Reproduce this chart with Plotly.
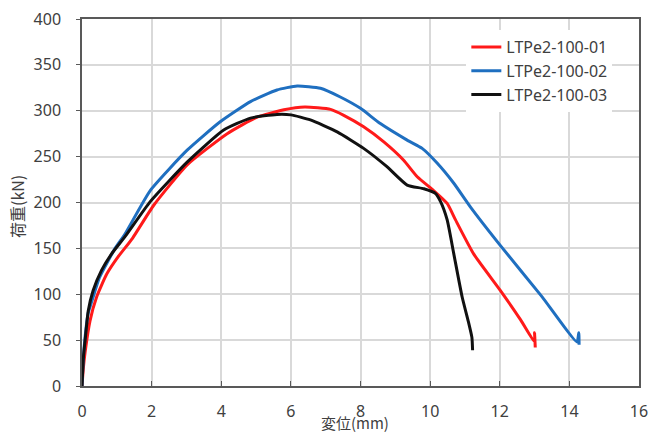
import plotly.graph_objects as go

# load-displacement curves (mm, kN)
x_01 = [0, 0.04, 0.09, 0.23, 0.42, 0.71, 1.04, 1.45, 2.06, 3.02, 4.17, 5.03, 5.8, 6.4, 7.14, 7.52,
        8.09, 8.67, 9.24, 9.63, 10.1, 10.49, 10.73, 11.25, 12.02, 12.6, 13.0, 13.0, 13.02]
y_01 = [0, 20, 37, 71, 97, 122, 141, 161, 197, 241, 275, 293, 301, 304, 301.5, 295,
        282.5, 266, 246, 228, 213, 199, 181, 144, 104, 72, 48, 58, 42]

x_02 = [0, 0.03, 0.08, 0.18, 0.28, 0.5, 0.95, 1.24, 1.96, 3.02, 3.97, 4.84, 5.6, 6.18, 6.85,
        7.42, 8.0, 8.57, 9.34, 9.77, 10.2, 10.68, 11.16, 12.02, 13.2, 14.22, 14.27, 14.28]
y_02 = [0, 25, 50, 80, 92, 118, 150, 166, 213, 257, 288, 310, 322.6, 327, 324.5,
        315, 302.6, 286, 268, 259, 243, 221, 195, 153, 98, 48, 58, 45]

x_03 = [0, 0.04, 0.09, 0.18, 0.32, 0.56, 0.85, 1.24, 1.96, 3.02, 4.07, 4.84, 5.6, 6.0, 6.56,
        7.33, 8.09, 8.76, 9.34, 9.82, 10.15, 10.3, 10.49, 10.68, 10.92, 11.1, 11.2, 11.22]
y_03 = [0, 31, 50, 82, 104, 126, 144, 163, 201, 244, 279, 292, 296, 295.5, 290,
        277, 259, 239, 219, 215, 210, 201, 181, 144, 97, 70, 53, 39]

names = ["LTPe2-100-01", "LTPe2-100-02", "LTPe2-100-03"]
colors = ["#ff1a1a", "#1f6fc0", "#111111"]

fig = go.Figure()
for i, (xs, ys) in enumerate([(x_01, y_01), (x_02, y_02), (x_03, y_03)]):
    fig.add_trace(go.Scatter(x=xs, y=ys, mode="lines", name=names[i],
                             legendgroup=names[i],
                             line=dict(color=colors[i], width=3, shape="spline", smoothing=0.5)))

txt = "#404040"
fig.update_layout(
    width=657, height=434,
    paper_bgcolor="white", plot_bgcolor="white",
    margin=dict(l=82, r=18, t=19, b=48),
    font=dict(family="Noto Sans, Liberation Sans, Noto Sans CJK JP", size=16, color=txt),
    showlegend=True,
    legend=dict(x=0.69, y=0.97, xanchor="left", yanchor="top",
                bgcolor="white", font=dict(size=16, color=txt),
                tracegroupgap=10, traceorder="normal"),
)
fig.update_xaxes(range=[0, 16], dtick=2, showgrid=True, gridcolor="#d9d9d9", gridwidth=1.5,
                 showline=True, linecolor="#595959", linewidth=1.5, mirror=True,
                 ticks="inside", ticklen=5, tickcolor="#595959", zeroline=False,
                 automargin=False, ticklabelstandoff=10)
fig.update_yaxes(range=[0, 400], dtick=50, showgrid=True, gridcolor="#d9d9d9", gridwidth=1.5,
                 showline=True, linecolor="#595959", linewidth=1.5, mirror=True,
                 ticks="outside", ticklen=4, tickcolor="#595959", zeroline=False,
                 automargin=False, ticklabelstandoff=12)

# axis titles placed as annotations
fig.add_annotation(text="変位(mm)", xref="paper", yref="paper", x=0.49, y=-0.1,
                   xanchor="center", yanchor="middle", showarrow=False,
                   font=dict(size=15, family="Noto Sans CJK JP", color=txt))
fig.add_annotation(text="荷重(kN)", xref="paper", yref="paper", x=-0.117, y=0.49,
                   xanchor="center", yanchor="middle", showarrow=False, textangle=-90,
                   font=dict(size=16, family="Noto Sans CJK JP", color=txt))

# page has a default body margin; drop it so the figure fills the window
fig.write_html("out.html", config={"displayModeBar": False},
               post_script="document.body.style.margin='0';")
